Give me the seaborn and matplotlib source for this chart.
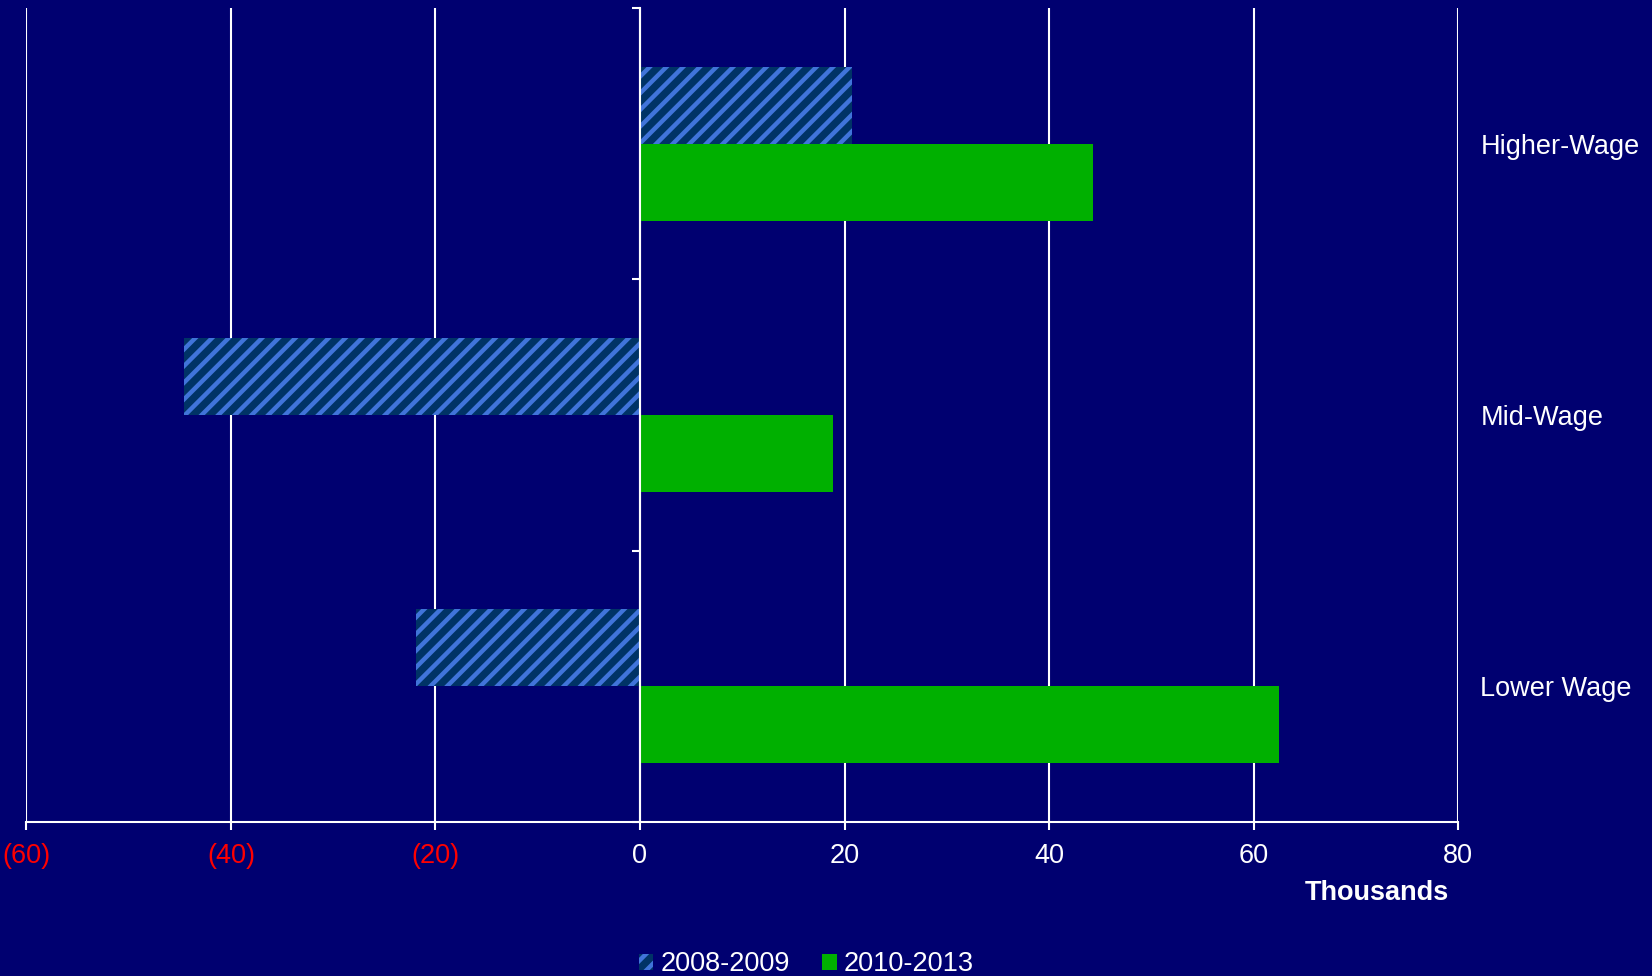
import matplotlib
matplotlib.use("Agg")
import matplotlib.pyplot as plt
from matplotlib.patches import Patch
from matplotlib.ticker import FuncFormatter, FixedLocator
import pandas as pd
import seaborn as sns

categories = ["Higher-Wage", "Mid-Wage", "Lower Wage"]
periods = ["2008-2009", "2010-2013"]
change_2008_2009 = [20.7, -44.6, -21.9]
change_2010_2013 = [44.3, 18.9, 62.5]
x_ticks = [-60, -40, -20, 0, 20, 40, 60, 80]

BG = "#000070"
GREEN = "#00B000"
DARK = "#003366"
STRIPE = "#4074DA"
FS = 19.5

df = pd.DataFrame({
    "category": categories * 2,
    "period": [periods[0]] * 3 + [periods[1]] * 3,
    "value": change_2008_2009 + change_2010_2013,
})

sns.set_style("white")
plt.rcParams["font.family"] = ["Liberation Sans", "DejaVu Sans"]
plt.rcParams["hatch.linewidth"] = 3.2

fig = plt.figure(figsize=(16.52, 9.76), dpi=100, facecolor=BG)
ax = fig.add_axes([0.016, 0.158, 0.8666, 0.8336])
ax.set_facecolor(BG)

sns.barplot(data=df, y="category", x="value", hue="period", order=categories,
            hue_order=periods, palette=[DARK, GREEN], width=0.57,
            orient="h", ax=ax, legend=False, saturation=1)

for bar in ax.containers[0]:
    bar.set_facecolor(DARK)
    bar.set_edgecolor(STRIPE)
    bar.set_hatch("//")
    bar.set_linewidth(0)
for bar in ax.containers[1]:
    bar.set_facecolor(GREEN)
    bar.set_linewidth(0)

ax.set_xlim(-60, 80)
ax.set_ylim(2.5, -0.5)
ax.set_xticks(x_ticks)
ax.xaxis.set_major_formatter(FuncFormatter(lambda v, p: f"({abs(v):.0f})" if v < 0 else f"{v:.0f}"))
ax.grid(axis="x", color="white", linewidth=1.5)
ax.set_axisbelow(True)

for side in ["top", "right"]:
    ax.spines[side].set_visible(False)
ax.spines["left"].set_position(("data", 0))
ax.spines["left"].set_color("white")
ax.spines["left"].set_linewidth(1.5)
ax.spines["bottom"].set_color("white")
ax.spines["bottom"].set_linewidth(1.5)

ax.tick_params(axis="x", direction="out", length=6, width=1.5, color="white",
               labelsize=FS, labelcolor="white", pad=9, bottom=True)
for lab in ax.get_xticklabels():
    if lab.get_text().startswith("("):
        lab.set_color("red")

# category labels sit on the right, boundary ticks on the zero line
ax.yaxis.set_minor_locator(FixedLocator([-0.5, 0.5, 1.5, 2.5]))
ax.tick_params(axis="y", which="minor", direction="out", length=6, width=1.5,
               color="white", left=True)
ax.tick_params(axis="y", which="major", length=0, left=False, labelleft=False,
               labelright=True, labelsize=FS, labelcolor="white", pad=16)
ax.set_ylabel("")
ax.set_xlabel("")

ax.text(0.994, -0.087, "Thousands", transform=ax.transAxes, ha="right", va="center",
        fontsize=FS, fontweight="bold", color="white")

handles = [Patch(facecolor=DARK, edgecolor=STRIPE, hatch="//", linewidth=0, label=periods[0]),
           Patch(facecolor=GREEN, linewidth=0, label=periods[1])]
fig.legend(handles=handles, loc="center", bbox_to_anchor=(0.488, 0.012), ncol=2,
           frameon=False, fontsize=FS, labelcolor="white", handlelength=0.55,
           handleheight=0.55, handletextpad=0.25, columnspacing=1.2)

fig.savefig("out.png", dpi=100, facecolor=BG)
